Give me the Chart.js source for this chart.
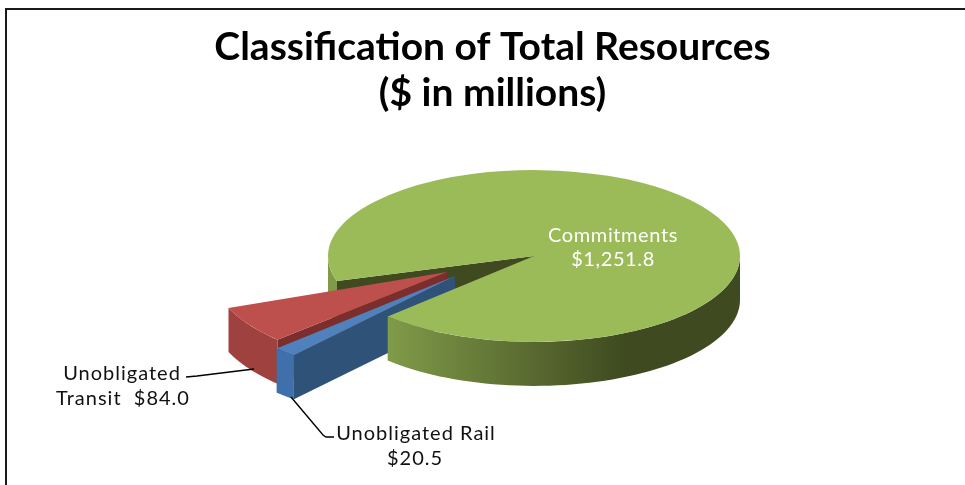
<!DOCTYPE html>
<html>
<head>
<meta charset="utf-8">
<title>Classification of Total Resources</title>
<script src="https://cdn.jsdelivr.net/npm/chart.js@4"></script>
<style>
    html, body { margin: 0; padding: 0; background: #fff; }
    canvas { display: block; }
</style>
</head>
<body>
<canvas id="pieChart" width="965" height="485"></canvas>
<script>
// data, clockwise from the back edge of the notch
const categories = ['Commitments', 'Unobligated Rail', 'Unobligated Transit'];
const amounts = [1251.8, 20.5, 84.0];
const titleLines = ['Classification of Total Resources', '($ in millions)'];

// look of the 3D pie
const topColors = ['#9bbb59', '#4f81bd', '#bd4f4c'];
const outerWallColors = [null, '#3f70ab', '#9f413e'];
const cutFaceColors = ['#3f4a20', '#2f5279', '#7b2e2c'];
const pieCenter = { x: 534, y: 256 };
const pieRadius = 206;
const tilt = 0.417;
const depth = 44;
const startRotation = 253;
// pulled out slices: shift from the pie centre, enlargement, turn in degrees
const sliceShift = [
    { dx: 0, dy: 0, k: 1, turn: 0 },
    { dx: -79, dy: 20, k: 1.21, turn: -5 },
    { dx: -87, dy: 16, k: 1.14, turn: -4.5 }
];

function project(i, angle, r) {
    const s = sliceShift[i];
    const a = angle + s.turn * Math.PI / 180;
    return {
        x: pieCenter.x + s.dx + s.k * r * Math.cos(a),
        y: pieCenter.y + s.dy + s.k * tilt * r * Math.sin(a)
    };
}

function drawCutFace(ctx, arc, i) {
    const apex = project(i, arc.startAngle, 0);
    const rim = project(i, arc.startAngle, pieRadius);
    ctx.fillStyle = cutFaceColors[i];
    ctx.beginPath();
    ctx.moveTo(apex.x, apex.y);
    ctx.lineTo(rim.x, rim.y);
    ctx.lineTo(rim.x, rim.y + depth);
    ctx.lineTo(apex.x, apex.y + depth);
    ctx.closePath();
    ctx.fill();
}

function drawOuterWall(ctx, i, from, to, fill) {
    ctx.fillStyle = fill;
    ctx.beginPath();
    const steps = 60;
    for (let n = 0; n <= steps; n++) {
        const p = project(i, from + (to - from) * n / steps, pieRadius);
        if (n === 0) ctx.moveTo(p.x, p.y); else ctx.lineTo(p.x, p.y);
    }
    for (let n = steps; n >= 0; n--) {
        const p = project(i, from + (to - from) * n / steps, pieRadius);
        ctx.lineTo(p.x, p.y + depth);
    }
    ctx.closePath();
    ctx.fill();
}

function drawTop(ctx, arc, i) {
    const s = sliceShift[i];
    const fit = pieRadius / arc.outerRadius;
    ctx.save();
    ctx.translate(pieCenter.x + s.dx, pieCenter.y + s.dy);
    ctx.scale(fit * s.k, fit * s.k * tilt);
    ctx.rotate(s.turn * Math.PI / 180);
    ctx.translate(-arc.x, -arc.y);
    arc.draw(ctx);
    ctx.restore();
}

const pie3d = {
    id: 'pie3d',
    beforeDraw(chart) {
        // frame of the picture, open on the right and at the bottom
        const ctx = chart.ctx;
        ctx.save();
        ctx.strokeStyle = '#1a1a1a';
        ctx.lineWidth = 2;
        ctx.beginPath();
        ctx.moveTo(6, 485);
        ctx.lineTo(6, 9);
        ctx.lineTo(965, 9);
        ctx.stroke();
        ctx.restore();
    },
    beforeDatasetsDraw(chart) {
        const ctx = chart.ctx;
        const arcs = chart.getDatasetMeta(0).data;
        const green = arcs[0];

        // back of the pie first, pulled out slices over it
        drawCutFace(ctx, green, 0);
        drawOuterWall(ctx, 0, green.startAngle, Math.PI, '#7f9a48');

        [2, 1].forEach(i => {
            const arc = arcs[i];
            drawCutFace(ctx, arc, i);
            drawOuterWall(ctx, i, arc.startAngle, arc.endAngle, outerWallColors[i]);
            drawTop(ctx, arc, i);
        });

        // front wall of the big slice hides the inner ends of the others
        const shade = ctx.createLinearGradient(390, 0, 625, 0);
        shade.addColorStop(0, '#7f9a48');
        shade.addColorStop(1, '#3f4a20');
        drawOuterWall(ctx, 0, 2 * Math.PI, green.endAngle, shade);
        drawTop(ctx, green, 0);
        return false;
    },
    afterDraw(chart) {
        const ctx = chart.ctx;
        ctx.save();
        ctx.strokeStyle = '#000';
        ctx.lineWidth = 1.4;
        ctx.beginPath();
        ctx.moveTo(186, 377);
        ctx.lineTo(197, 376);
        ctx.lineTo(254, 369);
        ctx.moveTo(291, 397);
        ctx.lineTo(323, 435);
        ctx.lineTo(326, 437);
        ctx.lineTo(334, 437);
        ctx.stroke();

        ctx.font = '20px Lato';
        ctx.textAlign = 'center';
        ctx.textBaseline = 'middle';
        ctx.letterSpacing = '0.6px';
        ctx.fillStyle = '#fff';
        ctx.fillText('Commitments', 613, 236);
        ctx.fillText('$' + amounts[0].toLocaleString('en-US', { minimumFractionDigits: 1 }), 613, 260);
        ctx.letterSpacing = '1px';
        ctx.fillStyle = '#111';
        ctx.fillText('Unobligated', 122, 374);
        ctx.fillText('Transit  $' + amounts[2].toFixed(1), 123, 399);
        ctx.fillText('Unobligated Rail', 416, 434);
        ctx.fillText('$' + amounts[1].toFixed(1), 415, 459);
        ctx.restore();
    }
};

new Chart(document.getElementById('pieChart'), {
    type: 'pie',
    data: {
        labels: categories,
        datasets: [{
            data: amounts,
            backgroundColor: topColors,
            borderWidth: 0
        }]
    },
    options: {
        responsive: false,
        animation: false,
        rotation: startRotation,
        layout: { padding: { left: 20 } },
        events: [],
        plugins: {
            legend: { display: false },
            tooltip: { enabled: false },
            title: {
                display: true,
                text: titleLines,
                color: '#000',
                font: { family: 'Lato', size: 39, weight: 'bold', lineHeight: 1.17 },
                padding: { top: 25, bottom: 0 }
            }
        }
    },
    plugins: [pie3d]
});
</script>
</body>
</html>
